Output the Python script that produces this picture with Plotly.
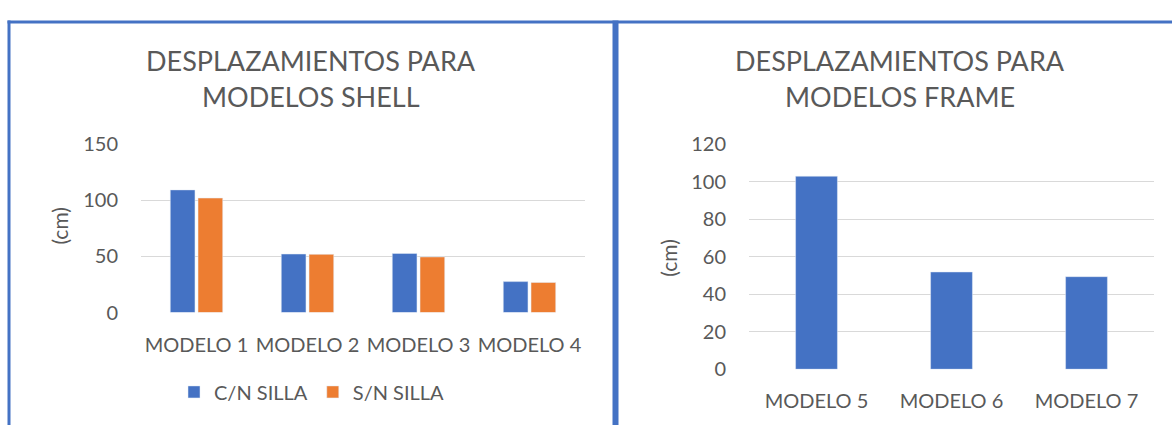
import plotly.graph_objects as go

W, H = 1172, 436

shell_models = ["MODELO 1", "MODELO 2", "MODELO 3", "MODELO 4"]
shell_con_silla = [109.4, 52.2, 52.7, 27.6]
shell_sin_silla = [102.1, 51.9, 49.6, 26.8]

frame_models = ["MODELO 5", "MODELO 6", "MODELO 7"]
frame_values = [103.0, 51.9, 49.4]

BLUE = "#4472c4"
ORANGE = "#ed7d31"
GREY = "#595959"
GRID = "#d9d9d9"
FONT = "Lato"


def px(x):
    return x / W


def py(y):
    return 1 - y / H


fig = go.Figure()
fig.add_trace(go.Bar(x=shell_models, y=shell_con_silla, name="C/N SILLA",
                     marker_color=BLUE, xaxis="x", yaxis="y"))
fig.add_trace(go.Bar(x=shell_models, y=shell_sin_silla, name="S/N SILLA",
                     marker_color=ORANGE, xaxis="x", yaxis="y"))
fig.add_trace(go.Bar(x=frame_models, y=frame_values, name="frame",
                     marker_color=BLUE, xaxis="x2", yaxis="y2",
                     showlegend=False, width=0.31))

axis_common = dict(
    showline=False, zeroline=False, ticks="",
    tickfont=dict(family=FONT, size=20, color=GREY),
)
fig.update_layout(
    width=W, height=H,
    margin=dict(l=0, r=0, t=0, b=0),
    paper_bgcolor="white", plot_bgcolor="white",
    font=dict(family=FONT, color=GREY),
    barmode="group", bargap=0.5, bargroupgap=0.11,
    xaxis=dict(domain=[px(141), px(585)], anchor="y", showgrid=False,
               ticklabelstandoff=18, **axis_common),
    yaxis=dict(domain=[py(317), py(139)], anchor="x", range=[0, 150],
               tickvals=[0, 50, 100, 150], showgrid=True, gridcolor=GRID,
               gridwidth=1, ticklabelstandoff=22, **axis_common),
    xaxis2=dict(domain=[px(749), px(1154)], anchor="y2", showgrid=False,
                ticklabelstandoff=18, **axis_common),
    yaxis2=dict(domain=[py(377), py(139)], anchor="x2", range=[0, 120],
                tickvals=[0, 20, 40, 60, 80, 100, 120], showgrid=True,
                gridcolor=GRID, gridwidth=1, ticklabelstandoff=22, **axis_common),
    legend=dict(orientation="h", x=px(312), xanchor="center", y=py(401),
                yanchor="middle", font=dict(family=FONT, size=20, color=GREY),
                itemwidth=30, traceorder="normal"),
)

# titles
titles = [
    (311, 50, "DESPLAZAMIENTOS PARA"),
    (311, 88, "MODELOS SHELL"),
    (900, 50, "DESPLAZAMIENTOS PARA"),
    (900, 88, "MODELOS FRAME"),
]
for x, y, t in titles:
    fig.add_annotation(x=px(x), y=py(y), xref="paper", yref="paper", text=t,
                       showarrow=False, xanchor="center", yanchor="middle",
                       font=dict(family=FONT, size=27, color=GREY))

# y axis titles
for x, y in [(60, 225), (669, 259)]:
    fig.add_annotation(x=px(x), y=py(y), xref="paper", yref="paper", text="(cm)",
                       textangle=-90, showarrow=False, xanchor="center",
                       yanchor="middle", font=dict(family=FONT, size=21, color=GREY))

# panel borders
border = dict(color=BLUE, width=3)
fig.add_shape(type="line", xref="paper", yref="paper", x0=px(7.5), x1=1,
              y0=py(9.5), y1=py(9.5), line=border)
fig.add_shape(type="line", xref="paper", yref="paper", x0=px(9), x1=px(9),
              y0=py(8), y1=0, line=border)
fig.add_shape(type="line", xref="paper", yref="paper", x0=px(615.5), x1=px(615.5),
              y0=py(8), y1=0, line=dict(color=BLUE, width=6))

# pin the graph to the page corner so no body margin shifts it
pin_page = (
    "document.documentElement.style.margin='0';"
    "document.body.style.margin='0';"
    "document.body.style.overflow='hidden';"
    "var g=document.getElementsByClassName('plotly-graph-div')[0];"
    "g.style.position='fixed';g.style.top='0';g.style.left='0';"
)
fig.write_html("out.html", config={"displayModeBar": False}, post_script=pin_page)
